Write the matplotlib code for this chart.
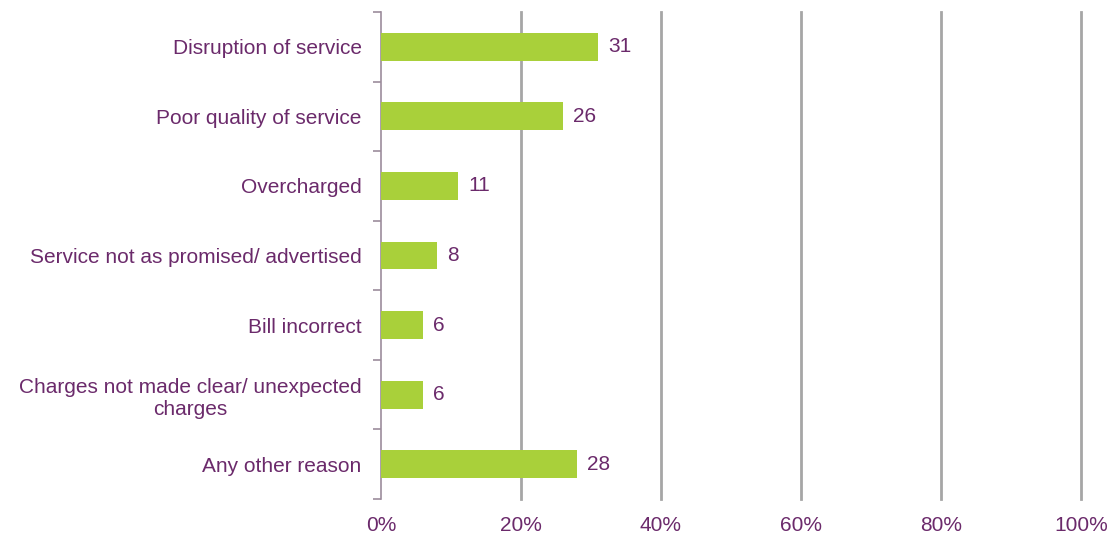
import matplotlib
matplotlib.use("Agg")
from matplotlib import pyplot as plt
from matplotlib.ticker import FixedLocator

categories = ["Disruption of service", "Poor quality of service", "Overcharged",
              "Service not as promised/ advertised", "Bill incorrect",
              "Charges not made clear/ unexpected\ncharges", "Any other reason"]
values = [31, 26, 11, 8, 6, 6, 28]
xticks = [0, 20, 40, 60, 80, 100]
xticklabels = ["0%", "20%", "40%", "60%", "80%", "100%"]

purple = "#6B2A6B"
green = "#A9D03A"
grey = "#A6A6A6"

plt.rcParams["font.family"] = ["Liberation Sans", "DejaVu Sans"]

fig = plt.figure(figsize=(11.1, 5.39), dpi=100)
ax = fig.add_axes([0.3432, 0.0742, 0.6306, 0.9035])

ypos = list(range(len(categories)))
ax.barh(ypos, values, height=0.4, color=green, zorder=3)
for y, v in zip(ypos, values):
    ax.text(v + 1.5, y, str(v), va="center", ha="left", fontsize=15, color=purple)

ax.set_xlim(0, 100)
ax.set_ylim(len(categories) - 0.5, -0.5)
ax.set_xticks(xticks)
ax.set_xticklabels(xticklabels)
ax.set_yticks(ypos)
ax.set_yticklabels(categories, ha="right", multialignment="center")
ax.yaxis.set_minor_locator(FixedLocator([i - 0.5 for i in range(len(categories) + 1)]))

ax.tick_params(axis="x", length=0, pad=12, labelsize=15, labelcolor=purple)
ax.tick_params(axis="y", which="major", length=0, pad=14, labelsize=15, labelcolor=purple)
ax.tick_params(axis="y", which="minor", length=6, width=1.2, color="#9C8C9C")

for s in ["top", "right", "bottom"]:
    ax.spines[s].set_visible(False)
ax.spines["left"].set_color("#9C8C9C")
ax.spines["left"].set_linewidth(1.2)

for x in xticks[1:]:
    ax.axvline(x, color=grey, linewidth=2, zorder=1, clip_on=False)

fig.savefig("out.png", dpi=100)
